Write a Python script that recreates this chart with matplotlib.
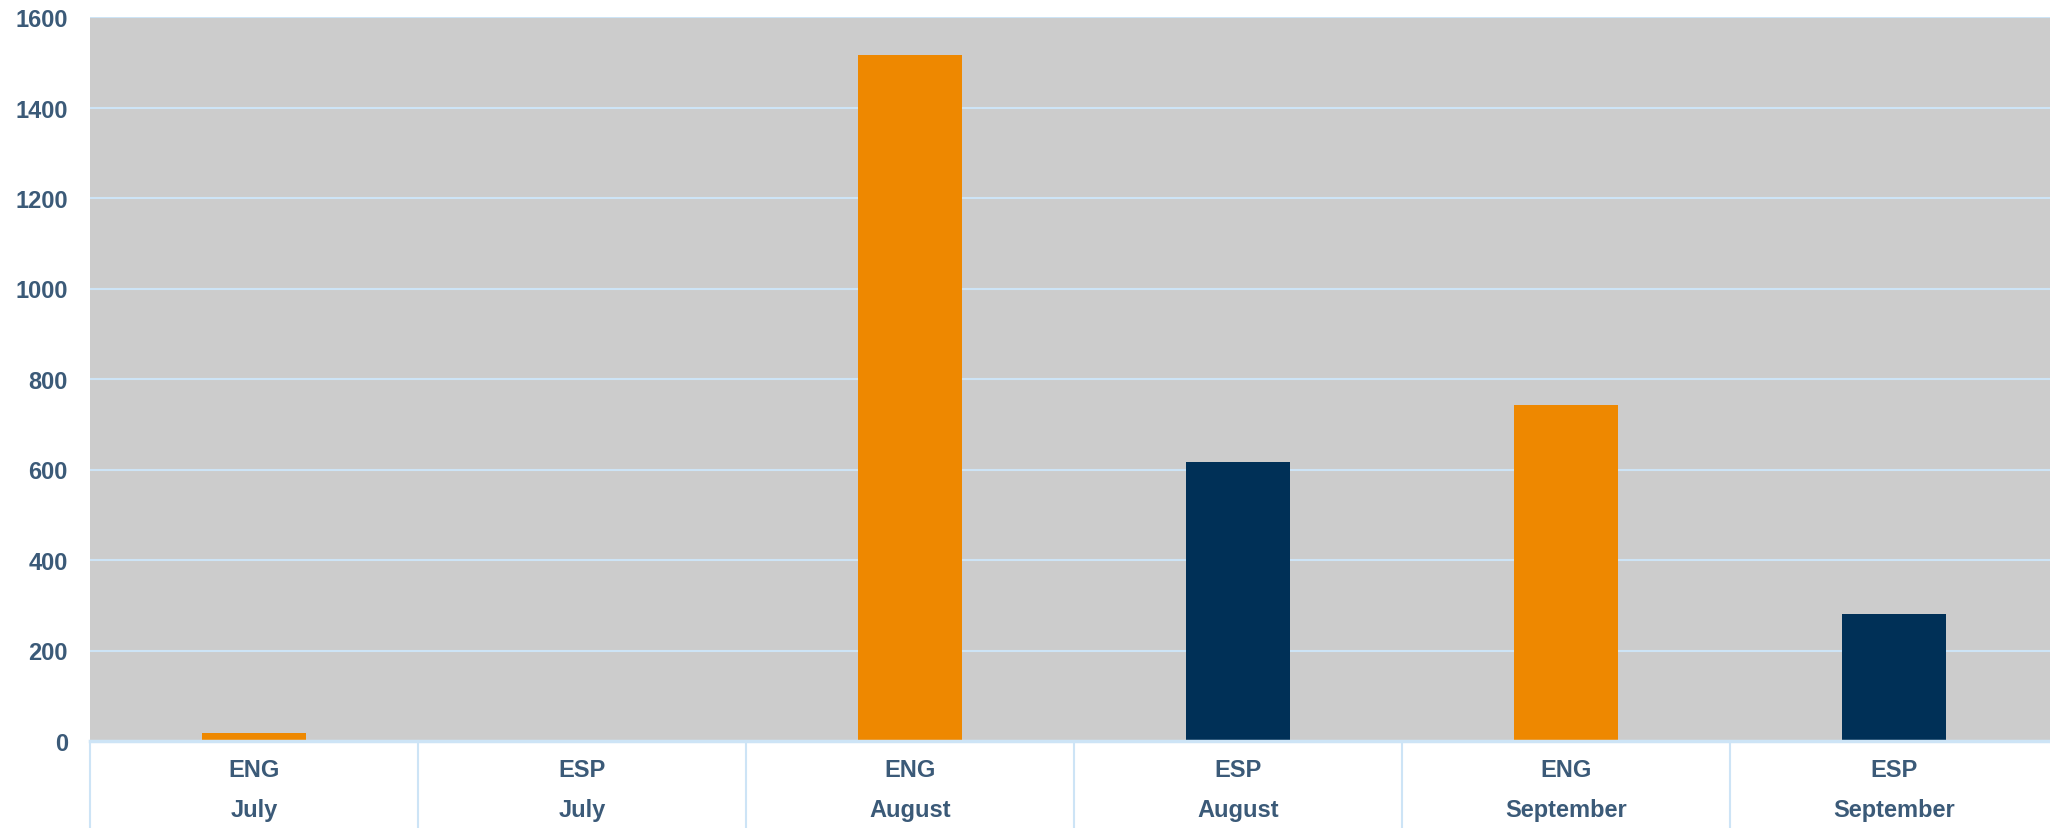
import matplotlib.pyplot as plt
import matplotlib.transforms as mtransforms

# Data
languages = ["ENG", "ESP", "ENG", "ESP", "ENG", "ESP"]
months = ["July", "July", "August", "August", "September", "September"]
values = [18, 0, 1515, 617, 743, 281]
lang_colors = {"ENG": "#ee8800", "ESP": "#003057"}
yticks = [0, 200, 400, 600, 800, 1000, 1200, 1400, 1600]

text_color = "#3b5a78"
grid_color = "#cde4f6"
plt.rcParams["font.family"] = ["Liberation Sans", "DejaVu Sans"]

fig = plt.figure(figsize=(20.5, 8.29), dpi=100)
ax = fig.add_axes([90 / 2050, 87 / 829, 1968 / 2050, 724 / 829])
ax.set_facecolor("#cccccc")

x = list(range(len(values)))
ax.bar(x, values, width=0.317, color=[lang_colors[l] for l in languages], zorder=3)

ax.set_xlim(-0.5, len(values) - 0.5)
ax.set_ylim(0, 1600)
ax.set_yticks(yticks)
ax.set_yticklabels([str(v) for v in yticks], fontsize=17, fontweight="bold", color=text_color)
ax.tick_params(axis="y", length=0, pad=16)
ax.set_xticks([])

ax.grid(axis="y", color=grid_color, linewidth=1.5, zorder=1)
ax.set_axisbelow(True)
for s in ["left", "right", "top"]:
    ax.spines[s].set_visible(False)
ax.spines["bottom"].set_color(grid_color)
ax.spines["bottom"].set_linewidth(2.5)
ax.spines["bottom"].set_zorder(4)

# Category separators below the axis
trans = mtransforms.blended_transform_factory(ax.transData, ax.transAxes)
for b in range(len(values) + 1):
    ax.plot([b - 0.5, b - 0.5], [0, -0.2], color=grid_color, linewidth=1.5,
            transform=trans, clip_on=False)

# Two-level category labels
for i, (lang, month) in enumerate(zip(languages, months)):
    ax.text(i, -0.0387, lang, transform=trans, ha="center", va="center",
            fontsize=17, fontweight="bold", color=text_color)
    ax.text(i, -0.0953, month, transform=trans, ha="center", va="center",
            fontsize=17, fontweight="bold", color=text_color)

fig.savefig("out.png", dpi=100)
